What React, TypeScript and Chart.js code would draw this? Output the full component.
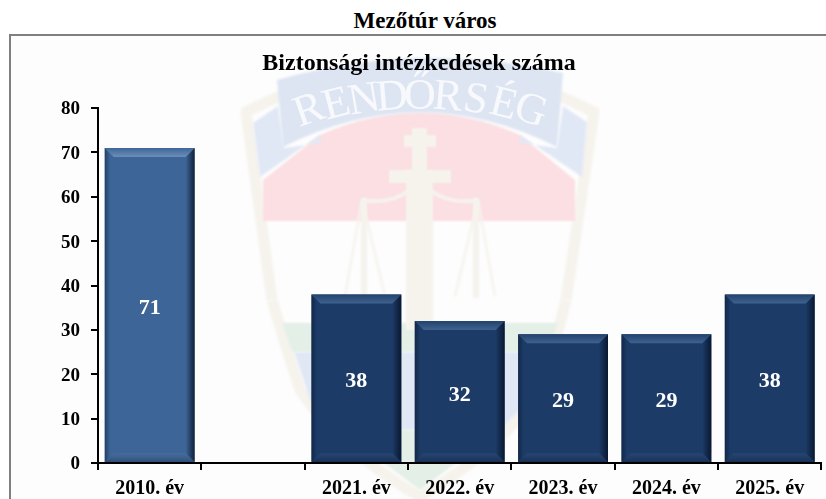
import React, { useEffect, useRef } from "react";
import { Chart, registerables } from "chart.js";

Chart.register(...registerables);

const pageTitle = "Mezőtúr város";
const chartTitle = "Biztonsági intézkedések száma";
const categories = ["2010. év", "", "2021. év", "2022. év", "2023. év", "2024. év", "2025. év"];
const values = [71, null, 38, 32, 29, 29, 38];
const barColors = ["#3d6597", "#1c3b66", "#1c3b66", "#1c3b66", "#1c3b66", "#1c3b66", "#1c3b66"];
const crestWord = "RENDŐRSÉG";

const FONT = '"Liberation Serif", "Times New Roman", serif';
const CANVAS_X = 11;
const CANVAS_Y = 36;

const poly = (ctx: CanvasRenderingContext2D, pts: number[][], fill: string) => {
  ctx.beginPath();
  pts.forEach((p, i) => (i ? ctx.lineTo(p[0], p[1]) : ctx.moveTo(p[0], p[1])));
  ctx.closePath();
  ctx.fillStyle = fill;
  ctx.fill();
};

const crestPlugin = {
  id: "crest",
  beforeDraw(chart: any) {
    const ctx: CanvasRenderingContext2D = chart.ctx;
    ctx.save();
    ctx.fillStyle = "#fdfdfd";
    ctx.fillRect(0, 0, chart.width, chart.height);
    ctx.translate(-CANVAS_X, -CANVAS_Y);
    ctx.filter = "blur(1px)";
    const cream = "#f6f3ed";
    const blue = "#e1e8f5";
    const deep = "#dde5f3";
    const red = "#fbdfe2";
    const green = "#e4efe8";

    // outer rim
    ctx.strokeStyle = cream;
    ctx.lineWidth = 11;
    ctx.lineJoin = "round";
    ctx.beginPath();
    ctx.moveTo(272, 300);
    ctx.lineTo(246, 112);
    ctx.quadraticCurveTo(420, 22, 594, 112);
    ctx.lineTo(566, 300);
    ctx.stroke();
    ctx.beginPath();
    ctx.moveTo(272, 300);
    ctx.quadraticCurveTo(285, 345, 300, 390);
    ctx.quadraticCurveTo(340, 450, 420, 497);
    ctx.quadraticCurveTo(500, 450, 540, 390);
    ctx.quadraticCurveTo(555, 345, 566, 300);
    ctx.stroke();

    // lower bands
    poly(ctx, [[282, 323], [558, 323], [548, 352], [292, 352]], green);
    poly(ctx, [[294, 352], [546, 352], [530, 400], [500, 430], [340, 430], [310, 400]], blue);
    poly(ctx, [[340, 430], [500, 430], [420, 490]], green);

    // red field
    ctx.beginPath();
    ctx.moveTo(263, 180);
    ctx.lineTo(320, 135);
    ctx.quadraticCurveTo(420, 90, 520, 135);
    ctx.lineTo(575, 180);
    ctx.lineTo(575, 221);
    ctx.lineTo(263, 221);
    ctx.closePath();
    ctx.fillStyle = red;
    ctx.fill();

    // ribbon tails
    poly(ctx, [[253, 123], [278, 106], [284, 148], [320, 143], [320, 135], [260, 177]], blue);
    poly(ctx, [[587, 122], [563, 106], [557, 148], [520, 143], [520, 135], [582, 177]], blue);
    // ribbon
    ctx.beginPath();
    ctx.moveTo(277, 80);
    ctx.quadraticCurveTo(420, 40, 563, 73);
    ctx.lineTo(557, 147);
    ctx.quadraticCurveTo(420, 78, 283, 147);
    ctx.closePath();
    ctx.fillStyle = deep;
    ctx.fill();

    // cross
    ctx.fillStyle = cream;
    ctx.fillRect(406, 170, 27, 160);
    ctx.fillRect(412, 128, 15, 50);
    ctx.fillRect(404, 135, 32, 12);
    ctx.fillRect(389, 170, 62, 13);

    // scales
    ctx.strokeStyle = cream;
    ctx.lineWidth = 2.5;
    [
      [[362, 200], [345, 296]],
      [[362, 200], [385, 296]],
      [[478, 200], [455, 296]],
      [[478, 200], [495, 296]],
    ].forEach(([a, b]) => {
      ctx.beginPath();
      ctx.moveTo(a[0], a[1]);
      ctx.lineTo(b[0], b[1]);
      ctx.stroke();
    });
    ctx.lineWidth = 4;
    ctx.beginPath();
    ctx.moveTo(362, 200);
    ctx.quadraticCurveTo(390, 205, 410, 190);
    ctx.moveTo(478, 200);
    ctx.quadraticCurveTo(450, 205, 430, 190);
    ctx.stroke();
    ctx.fillRect(361, 198, 6, 100);
    ctx.fillRect(473, 198, 6, 100);

    // ribbon lettering
    ctx.filter = "none";
    ctx.fillStyle = "#f8f9fc";
    ctx.font = `44px ${FONT}`;
    ctx.textAlign = "center";
    ctx.textBaseline = "middle";
    const cx = 420;
    const cy = 530;
    const radius = 433;
    const step = 3.7;
    [...crestWord].forEach((ch, i) => {
      const deg = (i - (crestWord.length - 1) / 2) * step;
      const a = (deg * Math.PI) / 180;
      ctx.save();
      ctx.translate(cx + radius * Math.sin(a), cy - radius * Math.cos(a));
      ctx.rotate(a * 1.3);
      ctx.fillText(ch, 0, 0);
      ctx.restore();
    });
    ctx.restore();
  },
};

const bevelPlugin = {
  id: "bevel",
  afterDatasetsDraw(chart: any) {
    const ctx: CanvasRenderingContext2D = chart.ctx;
    const meta = chart.getDatasetMeta(0);
    meta.data.forEach((bar: any, i: number) => {
      const value = values[i];
      if (value == null) return;
      const { x, y, base, width } = bar.getProps(["x", "y", "base", "width"], true);
      const l = x - width / 2;
      const r = x + width / 2;
      const first = i === 0;
      const b = 9;

      ctx.save();
      // right bevel
      let g = ctx.createLinearGradient(r - b, 0, r, 0);
      g.addColorStop(0, "rgba(5,15,35,0)");
      g.addColorStop(1, "rgba(5,15,35,0.8)");
      poly(ctx, [[r, y], [r, base], [r - b, base - b], [r - b, y + b]], g as any);
      // left bevel
      g = ctx.createLinearGradient(l, 0, l + b, 0);
      g.addColorStop(0, "rgba(5,15,35,0.45)");
      g.addColorStop(0.6, "rgba(5,15,35,0)");
      poly(ctx, [[l, y], [l + b, y + b], [l + b, base - b], [l, base]], g as any);
      // top bevel
      g = ctx.createLinearGradient(0, y, 0, y + b);
      g.addColorStop(0, first ? "#3f6698" : "#23426e");
      g.addColorStop(1, first ? "#6a8eb9" : "#3f628f");
      poly(ctx, [[l, y], [r, y], [r - b, y + b], [l + b, y + b]], g as any);
      // bottom bevel
      g = ctx.createLinearGradient(0, base - b, 0, base);
      g.addColorStop(0, first ? "rgba(110,140,180,0.15)" : "rgba(80,115,160,0.15)");
      g.addColorStop(1, "rgba(10,20,40,0.3)");
      poly(ctx, [[l + b, base - b], [r - b, base - b], [r, base], [l, base]], g as any);

      // value label
      ctx.fillStyle = "#ffffff";
      ctx.font = `bold 22px ${FONT}`;
      ctx.textAlign = "center";
      ctx.textBaseline = "middle";
      ctx.fillText(String(value), x, (y + base) / 2 + 3.5);
      ctx.restore();
    });
  },
};

export default function App() {
  const ref = useRef<HTMLCanvasElement>(null);

  useEffect(() => {
    const chart = new Chart(ref.current!, {
      type: "bar",
      data: {
        labels: categories,
        datasets: [
          {
            data: values as any,
            backgroundColor: barColors,
            borderWidth: 0,
            categoryPercentage: 1,
            barPercentage: 0.87,
          },
        ],
      },
      plugins: [crestPlugin, bevelPlugin],
      options: {
        animation: false,
        responsive: false,
        layout: { padding: { left: 5.6, right: 4.6, top: 0, bottom: 0 } },
        plugins: {
          legend: { display: false },
          tooltip: { enabled: false },
          title: {
            display: true,
            text: chartTitle,
            color: "#000",
            font: { family: FONT, size: 24, weight: "bold", lineHeight: 1.2 },
            padding: { top: 13.6, bottom: 29.6 },
          },
        },
        scales: {
          x: {
            afterFit(scale: any) {
              scale.height = 36;
            },
            border: { color: "#000", width: 2 },
            grid: { display: true, offset: true, drawOnChartArea: false, drawTicks: true, tickLength: 7, color: "#000", lineWidth: 2 },
            ticks: {
              color: "#000",
              padding: 7,
              maxRotation: 0,
              autoSkip: false,
              font: { family: FONT, size: 20, weight: "bold" },
            },
          },
          y: {
            min: 0,
            max: 80,
            afterFit(scale: any) {
              scale.width = 81.4;
            },
            border: { color: "#000", width: 2 },
            grid: { drawOnChartArea: false, drawTicks: true, tickLength: 7, color: "#000", lineWidth: 2 },
            ticks: {
              stepSize: 10,
              color: "#000",
              padding: 11,
              labelOffset: 1.5,
              font: { family: FONT, size: 19, weight: "bold" },
            },
          },
        },
      },
    } as any);
    return () => chart.destroy();
  }, []);

  return (
    <div style={{ position: "fixed", inset: 0, overflow: "hidden", background: "#fff" }}>
      <div
        style={{
          position: "absolute",
          left: 0,
          width: 850,
          top: 9,
          textAlign: "center",
          font: `bold 23px ${FONT}`,
          lineHeight: "24px",
          color: "#000",
        }}
      >
        {pageTitle}
      </div>
      <div
        style={{
          position: "absolute",
          left: 9,
          top: 34,
          right: 0,
          bottom: 0,
          borderLeft: "2px solid #808080",
          borderTop: "2px solid #808080",
        }}
      />
      <canvas
        ref={ref}
        width={815}
        height={463}
        style={{ position: "absolute", left: CANVAS_X, top: CANVAS_Y, width: 815, height: 463 }}
      />
    </div>
  );
}
